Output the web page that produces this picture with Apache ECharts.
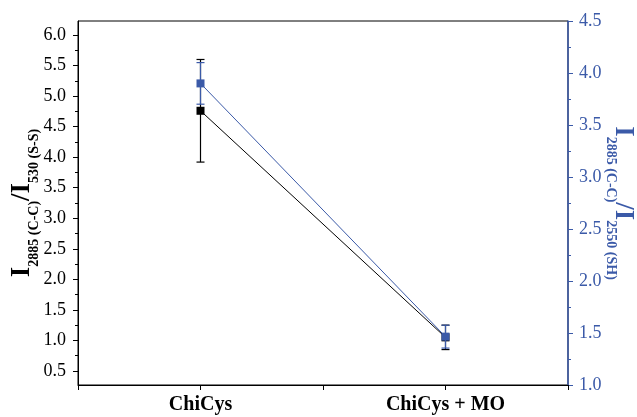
<!DOCTYPE html>
<html>
<head>
<meta charset="utf-8">
<script src="https://cdn.jsdelivr.net/npm/echarts@6/dist/echarts.min.js"></script>
<style>html,body{margin:0;padding:0;background:#fff}#c{width:637px;height:417px}</style>
</head>
<body>
<div id="c"></div>
<script>
// ---- data ----
const categories = ['ChiCys', 'ChiCys + MO'];
const ratioSS = [4.76, 1.05];        // I2885/I530, left axis
const ratioSSerr = [0.84, 0.20];
const ratioSH = [3.90, 1.465];       // I2885/I2550, right axis
const ratioSHerr = [0.20, 0.11];
const leftTicks = [0.5, 1.0, 1.5, 2.0, 2.5, 3.0, 3.5, 4.0, 4.5, 5.0, 5.5, 6.0];
const rightTicks = [1.0, 1.5, 2.0, 2.5, 3.0, 3.5, 4.0, 4.5];

const BLUE = '#3b5aa8';
const FONT = 'Liberation Serif';
const xPos = categories.map((c, i) => 1 + 2 * i);
const leftMinor = leftTicks.slice(0, -1).map((v, i) => (v + leftTicks[i + 1]) / 2);

function errSeries(vals, errs, yIdx, color, z) {
  return {
    type: 'custom', yAxisIndex: yIdx, z: z, silent: true,
    data: vals.map((v, i) => [xPos[i], v - errs[i], v + errs[i]]),
    renderItem: function (params, api) {
      const lo = api.coord([api.value(0), api.value(1)]);
      const hi = api.coord([api.value(0), api.value(2)]);
      const w = 4;
      const st = { stroke: color, lineWidth: 1.2 };
      return { type: 'group', children: [
        { type: 'line', shape: { x1: lo[0], y1: lo[1], x2: hi[0], y2: hi[1] }, style: st },
        { type: 'line', shape: { x1: lo[0] - w, y1: lo[1], x2: lo[0] + w, y2: lo[1] }, style: st },
        { type: 'line', shape: { x1: hi[0] - w, y1: hi[1], x2: hi[0] + w, y2: hi[1] }, style: st }
      ]};
    }
  };
}

function titleRich(color) {
  return {
    big: { fontFamily: FONT, fontWeight: 'bold', fontSize: 27, lineHeight: 28, verticalAlign: 'bottom',
      padding: [0, 0, 5, 0], color: color },
    sub: { fontFamily: FONT, fontWeight: 'bold', fontSize: 14, lineHeight: 16, verticalAlign: 'bottom', color: color }
  };
}

const chart = echarts.init(document.getElementById('c'), null, { renderer: 'canvas' });
chart.setOption({
  animation: false,
  backgroundColor: '#fff',
  grid: { left: 78, right: 69, top: 21, bottom: 32, show: true, borderColor: '#000', borderWidth: 1,
    containLabel: false, outerBoundsMode: 'none' },
  xAxis: {
    type: 'value', min: 0, max: 4, interval: 1,
    splitLine: { show: false },
    axisLine: { lineStyle: { color: '#000', width: 1 } },
    axisTick: { show: true, length: 5, lineStyle: { color: '#000' } },
    axisLabel: {
      margin: 10, color: '#000', fontFamily: FONT, fontWeight: 'bold', fontSize: 20,
      formatter: v => { const i = (v - 1) / 2; return Number.isInteger(i) && categories[i] ? categories[i] : ''; }
    }
  },
  yAxis: [
    {
      type: 'value', position: 'left', min: 0.27, max: 6.23,
      splitLine: { show: false },
      axisLine: { show: true, lineStyle: { color: '#000', width: 1 } },
      axisTick: { show: true, length: 5, customValues: leftTicks, lineStyle: { color: '#000' } },
      axisLabel: { customValues: leftTicks, margin: 12, color: '#000', fontFamily: FONT, fontSize: 18,
        formatter: v => v.toFixed(1) },
      name: '{big|I}{sub|2885 (C-C)}{big|/I}{sub|530 (S-S)}',
      nameLocation: 'middle', nameGap: 37, nameMoveOverlap: false,
      nameTextStyle: { color: '#000', rich: titleRich('#000') }
    },
    {
      type: 'value', position: 'right', min: 1.0, max: 4.5, interval: 0.5,
      splitLine: { show: false },
      axisLine: { show: true, lineStyle: { color: BLUE, width: 1.5 } },
      axisTick: { show: true, length: 5, lineStyle: { color: BLUE } },
      minorTick: { show: true, splitNumber: 2, length: 3, lineStyle: { color: BLUE } },
      axisLabel: { margin: 11, color: BLUE, fontFamily: FONT, fontSize: 18, formatter: v => v.toFixed(1) },
      name: '{big|I}{sub|2885 (C-C)}{big|/I}{sub|2550 (SH)}',
      nameLocation: 'middle', nameGap: 36, nameRotate: -90, nameMoveOverlap: false,
      nameTextStyle: { color: BLUE, rich: titleRich(BLUE) }
    },
    {
      type: 'value', position: 'left', min: 0.27, max: 6.23,
      splitLine: { show: false },
      axisLine: { show: false },
      axisTick: { show: true, length: 3, customValues: leftMinor, lineStyle: { color: '#000' } },
      axisLabel: { show: false }
    }
  ],
  series: [
    errSeries(ratioSS, ratioSSerr, 0, '#000', 2),
    {
      type: 'line', yAxisIndex: 0, z: 3,
      data: ratioSS.map((v, i) => [xPos[i], v]),
      symbol: 'rect', symbolSize: 8,
      lineStyle: { color: '#000', width: 1 },
      itemStyle: { color: '#000' }
    },
    errSeries(ratioSH, ratioSHerr, 1, BLUE, 4),
    {
      type: 'line', yAxisIndex: 1, z: 5,
      data: ratioSH.map((v, i) => [xPos[i], v]),
      symbol: 'rect', symbolSize: 8,
      lineStyle: { color: BLUE, width: 1 },
      itemStyle: { color: BLUE }
    }
  ]
});
</script>
</body>
</html>
